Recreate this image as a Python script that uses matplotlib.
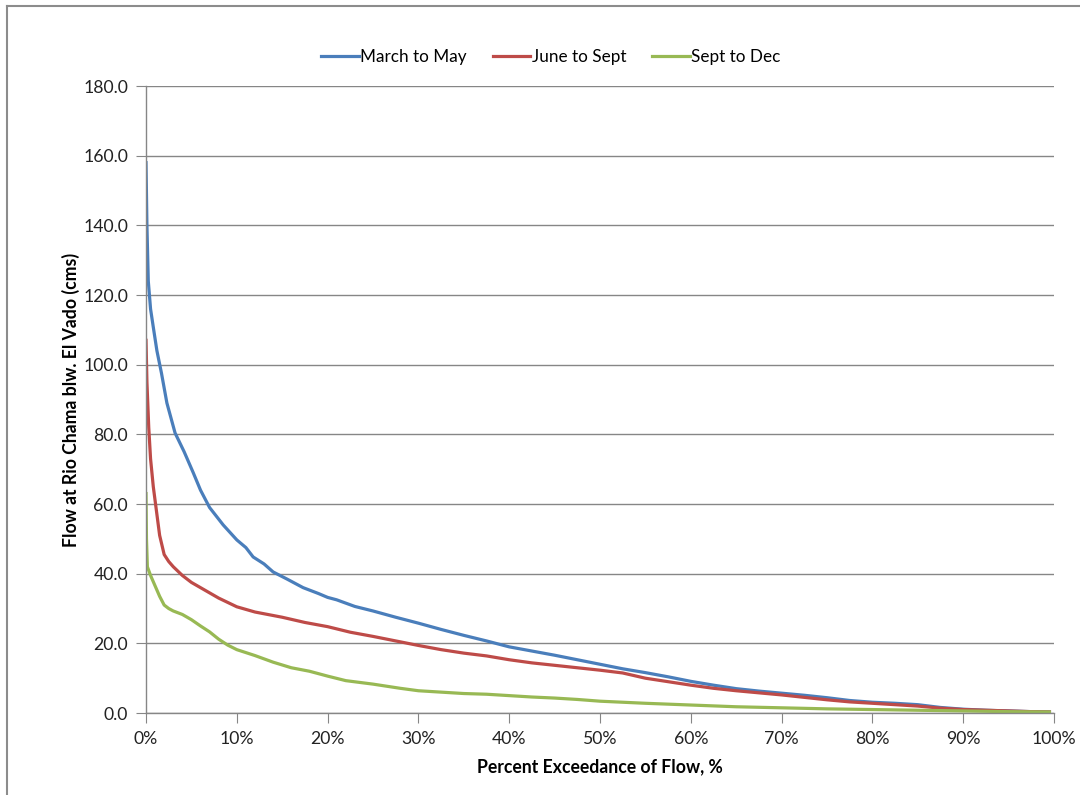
import matplotlib
matplotlib.use("Agg")
import matplotlib.pyplot as plt
from matplotlib.lines import Line2D
from matplotlib.ticker import FuncFormatter, MultipleLocator

plt.rcParams['font.family'] = ['Lato', 'DejaVu Sans']

# Percent exceedance (%) and flow (cms)
mar_may_x = [0, 0.1, 0.25, 0.5, 0.8, 1.2, 1.7, 2.3, 3.2, 4.2, 5.2, 6.0, 7.0, 8.5, 10, 11, 11.8, 13, 14, 15.5, 17.3, 19, 20, 21, 23, 25, 27.5, 30, 32.5, 35, 37.5, 40, 42.5, 45, 47.5, 50, 52.5, 55, 57.5, 60, 62.5, 65, 67.5, 70, 72.5, 75, 77.5, 80, 82.5, 85, 87.5, 90, 92.5, 95, 97.5, 99.5]
mar_may_y = [158, 140, 124, 116, 110.8, 104, 97.6, 89, 80.4, 75, 69, 64, 59, 54, 49.7, 47.5, 44.8, 42.8, 40.5, 38.5, 36, 34.3, 33.2, 32.5, 30.6, 29.3, 27.5, 25.8, 24, 22.3, 20.7, 19, 17.8, 16.6, 15.3, 14.0, 12.7, 11.6, 10.4, 9.1, 8.0, 7.0, 6.3, 5.7, 5.1, 4.4, 3.6, 3.1, 2.8, 2.4, 1.6, 1.1, 0.8, 0.6, 0.4, 0.3]

jun_sep_x = [0, 0.1, 0.3, 0.5, 0.8, 1.0, 1.5, 2.0, 2.5, 3.0, 4.0, 5.0, 6.0, 7.0, 8.0, 10, 12, 15, 17.5, 20, 22.5, 25, 27.5, 30, 32.5, 35, 37.5, 40, 42.5, 45, 47.5, 50, 52.5, 55, 57.5, 60, 62.5, 65, 67.5, 70, 72.5, 75, 77.5, 80, 82.5, 85, 87.5, 90, 92.5, 95, 97.5, 99.5]
jun_sep_y = [107, 95, 82, 73, 65, 61, 51, 45.5, 43.5, 42, 39.5, 37.5, 36, 34.5, 33, 30.5, 29, 27.5, 26, 24.8, 23.2, 22, 20.7, 19.4, 18.2, 17.2, 16.4, 15.3, 14.4, 13.7, 13, 12.3, 11.5, 10.0, 9.0, 8.0, 7.1, 6.4, 5.8, 5.2, 4.5, 3.8, 3.2, 2.8, 2.4, 2.0, 1.4, 1.0, 0.8, 0.6, 0.4, 0.3]

sep_dec_x = [0, 0.05, 0.15, 0.5, 1.0, 1.5, 2.0, 2.5, 3.0, 4.0, 5.0, 6.0, 7.0, 8.0, 9.0, 10, 12, 14, 16, 18, 20, 22, 25, 28, 30, 32.5, 35, 37.5, 40, 42.5, 45, 47.5, 50, 55, 60, 65, 70, 75, 80, 85, 90, 95, 99.5]
sep_dec_y = [63, 50, 42, 39.5, 36.5, 33.5, 31, 30, 29.3, 28.3, 26.8, 25, 23.3, 21.2, 19.5, 18.2, 16.5, 14.6, 13.0, 12.0, 10.6, 9.3, 8.3, 7.1, 6.4, 6.0, 5.6, 5.4, 5.0, 4.6, 4.3, 3.9, 3.4, 2.8, 2.3, 1.8, 1.5, 1.2, 1.0, 0.8, 0.6, 0.4, 0.3]

series_labels = ["March to May", "June to Sept", "Sept to Dec"]
series_colors = ["#4A7EBB", "#BE4B48", "#98B954"]

fig = plt.figure(figsize=(10.8, 7.95), dpi=100)
ax = fig.add_axes([0.1352, 0.1031, 0.8407, 0.7887])

for xs, ys, lab, col in zip([mar_may_x, jun_sep_x, sep_dec_x],
                            [mar_may_y, jun_sep_y, sep_dec_y],
                            series_labels, series_colors):
    ax.plot(xs, ys, color=col, lw=2.3, label=lab, solid_joinstyle='round')

ax.set_xlim(0, 100)
ax.set_ylim(0, 180)
ax.yaxis.set_major_locator(MultipleLocator(20))
ax.xaxis.set_major_locator(MultipleLocator(10))
ax.yaxis.set_major_formatter(FuncFormatter(lambda v, p: f"{v:.1f}"))
ax.xaxis.set_major_formatter(FuncFormatter(lambda v, p: f"{v:.0f}%"))
ax.grid(axis='y', color='#868686', lw=1.0)
ax.set_axisbelow(True)
for s in ['top', 'right']:
    ax.spines[s].set_visible(False)
for s in ['left', 'bottom']:
    ax.spines[s].set_color('#868686')
    ax.spines[s].set_linewidth(1.0)
ax.tick_params(axis='both', direction='out', length=7, color='#868686',
               labelsize=12.7, labelcolor='#222222')
ax.tick_params(axis='y', pad=6)
ax.tick_params(axis='x', pad=6)

ax.set_xlabel("Percent Exceedance of Flow, %", fontsize=12.7, fontweight='bold', labelpad=8)
ax.set_ylabel("Flow at Rio Chama blw. El Vado (cms)", fontsize=12.7, fontweight='bold', labelpad=2)

handles = [Line2D([0], [0], color=c, lw=2.3) for c in series_colors]
fig.legend(handles, series_labels, loc='center', bbox_to_anchor=(0.51, 0.928),
           ncol=3, frameon=False, fontsize=12.3, handlelength=2.2, handletextpad=0.1,
           columnspacing=1.5)

# outer chart frame (left and top edges visible)
fig.add_artist(Line2D([7/1080, 7/1080], [0, 1 - 6/795], transform=fig.transFigure,
                      color='#8c8c8c', lw=1.5))
fig.add_artist(Line2D([7/1080, 1], [1 - 6/795, 1 - 6/795], transform=fig.transFigure,
                      color='#8c8c8c', lw=1.5))

fig.savefig("out.png", dpi=100)
